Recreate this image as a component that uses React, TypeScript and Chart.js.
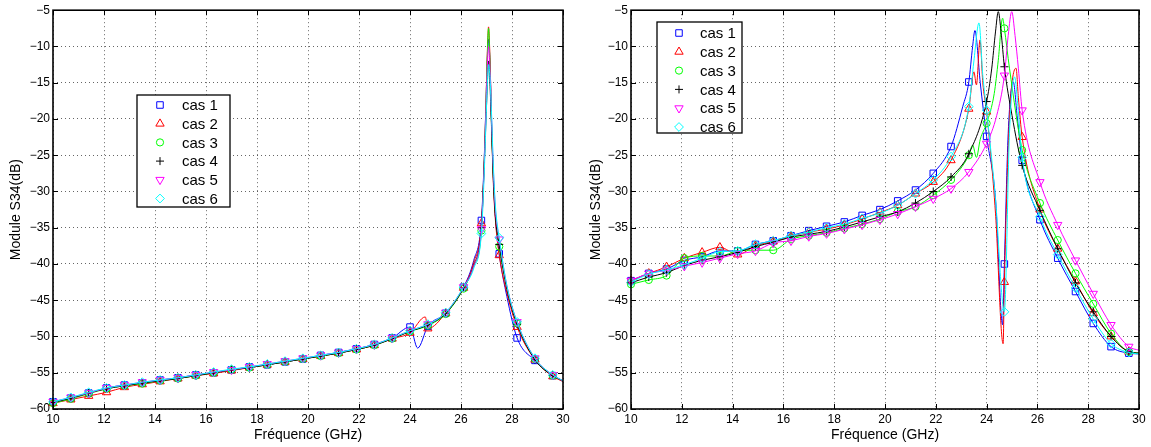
import React, { useEffect, useRef } from 'react';
import { Chart, registerables } from 'chart.js';

Chart.register(...registerables);

// ---------- shared data ----------
const MARKER_FREQ = [10, 10.7, 11.4, 12.1, 12.8, 13.5, 14.2, 14.9, 15.6, 16.3, 17, 17.7, 18.4, 19.1, 19.8, 20.5, 21.2, 21.9, 22.6, 23.3, 24, 24.7, 25.4, 26.1, 26.8, 27.5, 28.2, 28.9, 29.6];
const CASE_LABELS = ['cas 1', 'cas 2', 'cas 3', 'cas 4', 'cas 5', 'cas 6'];
const CASE_COLORS = ['#0000ff', '#ff0000', '#00ff00', '#000000', '#ff00ff', '#00ffff'];
const CASE_STYLES = ['rect', 'triangle', 'circle', 'cross', 'triangle', 'rectRot'];
const CASE_ROTATIONS = [0, 0, 0, 0, 180, 0];
const CASE_RADII = [4.6, 4.8, 3.6, 4, 4.8, 4.4];

const X_MIN = 10;
const X_MAX = 30;
const X_STEP = 2;
const Y_MIN = -60;
const Y_MAX = -5;
const Y_STEP = 5;
const X_TITLE = 'Fréquence (GHz)';
const Y_TITLE = 'Module S34(dB)';

// ---------- left chart: marker values ----------
const L1 = [-59.0, -58.5, -57.8, -57.1, -56.7, -56.4, -56.0, -55.7, -55.3, -55.0, -54.6, -54.2, -53.9, -53.5, -53.1, -52.6, -52.2, -51.7, -51.1, -50.2, -48.7, -48.6, -46.8, -43.2, -34.0, -38.6, -50.2, -53.3, -55.4];
const L2 = [-59.2, -58.7, -58.2, -57.7, -57.0, -56.6, -56.2, -55.8, -55.4, -55.1, -54.7, -54.3, -53.9, -53.5, -53.1, -52.7, -52.3, -51.8, -51.2, -50.3, -49.5, -48.9, -46.8, -43.3, -34.4, -38.8, -48.7, -53.2, -55.5];
const L3 = [-59.2, -58.6, -57.9, -57.2, -56.8, -56.5, -56.1, -55.8, -55.4, -55.0, -54.6, -54.3, -53.9, -53.5, -53.1, -52.7, -52.3, -51.8, -51.2, -50.3, -49.3, -48.5, -46.9, -43.4, -35.4, -37.6, -48.2, -53.1, -55.4];
const L4 = [-59.1, -58.5, -57.8, -57.2, -56.8, -56.4, -56.1, -55.8, -55.4, -55.0, -54.6, -54.3, -53.9, -53.5, -53.1, -52.7, -52.3, -51.8, -51.2, -50.3, -49.3, -48.4, -46.8, -43.3, -35.0, -37.3, -48.3, -53.2, -55.4];
const L5 = [-59.0, -58.4, -57.8, -57.1, -56.7, -56.3, -56.0, -55.7, -55.3, -54.9, -54.6, -54.2, -53.8, -53.4, -53.0, -52.6, -52.2, -51.7, -51.1, -50.2, -49.2, -48.3, -46.7, -43.2, -35.2, -36.6, -48.0, -53.0, -55.3];
const L6 = [-59.0, -58.4, -57.7, -57.1, -56.7, -56.3, -56.0, -55.7, -55.3, -54.9, -54.5, -54.2, -53.8, -53.4, -53.0, -52.6, -52.2, -51.7, -51.1, -50.2, -49.2, -48.3, -46.7, -43.2, -35.8, -36.4, -48.0, -53.0, -55.3];

// left chart: extra curve points between markers (resonance shape)
const L1_EX = [24.3, 26.5, 26.9, 26.97, 27.03, 27.08, 27.14, 27.2, 27.27, 27.35, 27.8, 30];
const L1_EY = [-51.6, -39.5, -26.5, -19, -12, -9, -12.5, -20.5, -28, -33.5, -44.5, -56.2];
const L2_EX = [24.6, 26.5, 26.9, 26.97, 27.03, 27.08, 27.14, 27.2, 27.27, 27.35, 27.8, 30];
const L2_EY = [-47.3, -39.8, -26.8, -19, -11, -7.3, -12, -21, -29, -34, -44, -56.2];
const L3_EX = [26.5, 26.9, 26.97, 27.03, 27.08, 27.14, 27.2, 27.27, 27.35, 27.8, 30];
const L3_EY = [-40.3, -27, -19.5, -11.5, -7.5, -13, -21, -28, -33, -43.2, -56.1];
const L4_EX = [26.5, 26.9, 26.97, 27.03, 27.08, 27.14, 27.2, 27.27, 27.35, 27.8, 30];
const L4_EY = [-40.2, -27.5, -21, -15.5, -12, -15.5, -21.5, -28.5, -33.5, -43.5, -56.1];
const L5_EX = [26.5, 26.9, 26.97, 27.03, 27.08, 27.14, 27.2, 27.27, 27.35, 27.8, 30];
const L5_EY = [-40.3, -27.5, -20, -13, -10, -13.5, -20, -27, -32.5, -43, -56.1];
const L6_EX = [26.5, 26.9, 26.97, 27.03, 27.08, 27.14, 27.2, 27.27, 27.35, 27.8, 30];
const L6_EY = [-40.6, -28.5, -21.5, -15.5, -12.5, -14.5, -19.5, -26.5, -32, -43, -56.1];

// ---------- right chart: marker values ----------
const R1 = [-42.3, -41.3, -40.7, -39.5, -39.0, -38.2, -38.2, -37.3, -36.8, -36.1, -35.4, -34.8, -34.2, -33.3, -32.5, -31.3, -29.8, -27.5, -23.8, -14.9, -22.4, -40.0, -25.7, -33.9, -39.2, -43.8, -48.2, -51.4, -52.3];
const R2 = [-42.3, -41.3, -40.4, -39.2, -38.4, -37.7, -38.7, -37.5, -36.9, -36.2, -35.6, -35.2, -34.6, -33.8, -32.9, -31.9, -30.3, -28.7, -25.7, -18.6, -19.0, -42.5, -22.5, -32.5, -37.9, -42.4, -46.8, -50.0, -52.1];
const R3 = [-42.8, -42.2, -41.6, -39.2, -38.9, -38.9, -38.2, -38.1, -38.1, -36.6, -36.1, -35.7, -35.1, -34.5, -33.8, -32.8, -32.1, -30.5, -28.4, -25.0, -20.6, -7.5, -24.3, -31.6, -36.7, -41.3, -45.5, -49.6, -52.1];
const R4 = [-42.6, -41.8, -41.2, -40.2, -39.5, -39.0, -38.4, -37.6, -37.0, -36.3, -35.9, -35.5, -34.9, -34.2, -33.5, -32.8, -31.6, -30.0, -28.0, -24.8, -17.6, -12.8, -26.4, -32.6, -37.9, -42.6, -46.6, -50.0, -52.1];
const R5 = [-42.3, -41.3, -40.9, -40.3, -39.8, -39.2, -38.6, -38.2, -37.1, -36.8, -36.2, -35.8, -35.2, -34.6, -33.9, -33.1, -32.1, -31.0, -29.6, -27.3, -23.4, -14.0, -18.8, -28.7, -34.6, -39.5, -44.1, -48.4, -51.4];
const R6 = [-42.5, -41.4, -40.8, -40.1, -39.2, -38.3, -38.2, -37.3, -36.8, -36.1, -35.6, -35.0, -34.5, -33.7, -33.0, -31.9, -30.3, -28.4, -25.2, -18.3, -18.8, -46.6, -25.3, -33.5, -38.7, -43.3, -47.6, -51.0, -52.2];

// right chart: extra curve points
const R1_EX = [23.06, 23.45, 23.54, 23.75, 24.35, 24.63, 24.85, 25.05, 25.2, 30];
const R1_EY = [-18.3, -10, -7.8, -15, -31, -48.4, -22, -14.9, -19.5, -52.4];
const R2_EX = [23.5, 23.6, 23.74, 23.85, 24.35, 24.65, 24.9, 25.16, 25.25, 30];
const R2_EY = [-13.5, -15.3, -9.1, -15, -33, -51, -20, -13, -17, -52.3];
const R3_EX = [23.45, 23.6, 23.75, 24.3, 24.46, 24.63, 24.9, 30];
const R3_EY = [-23.6, -25.3, -22.8, -16.5, -11.9, -6.1, -13, -52.3];
const R4_EX = [24.2, 24.35, 24.46, 24.57, 25.0, 30];
const R4_EY = [-13.1, -8, -5.2, -8, -19.5, -52.3];
const R5_EX = [24.4, 24.85, 24.99, 25.12, 25.25, 30];
const R5_EY = [-19.5, -8.5, -5.2, -8.5, -13, -51.9];
const R6_EX = [23.5, 23.7, 23.85, 24.35, 24.9, 25.1, 25.25, 30];
const R6_EY = [-12, -6.75, -14, -31, -22, -14.2, -19, -52.4];

// ---------- helpers ----------
type Pt = { x: number; y: number; m: boolean };

function buildSeries(markers: number[], ex: number[], ey: number[]): Pt[] {
  const pts: Pt[] = MARKER_FREQ.map((x, i) => ({ x, y: markers[i], m: true }));
  ex.forEach((x, i) => pts.push({ x, y: ey[i], m: false }));
  pts.sort((a, b) => a.x - b.x);
  return pts;
}

function drawMarker(ctx: CanvasRenderingContext2D, style: string, rot: number, x: number, y: number, r: number) {
  ctx.beginPath();
  if (style === 'rect') {
    const s = r * Math.SQRT1_2;
    ctx.rect(x - s, y - s, 2 * s, 2 * s);
  } else if (style === 'triangle') {
    let a = (rot * Math.PI) / 180;
    ctx.moveTo(x + Math.sin(a) * r, y - Math.cos(a) * r);
    for (let k = 0; k < 2; k++) {
      a += (2 * Math.PI) / 3;
      ctx.lineTo(x + Math.sin(a) * r, y - Math.cos(a) * r);
    }
    ctx.closePath();
  } else if (style === 'circle') {
    ctx.arc(x, y, r, 0, Math.PI * 2);
  } else if (style === 'cross') {
    ctx.moveTo(x, y - r);
    ctx.lineTo(x, y + r);
    ctx.moveTo(x - r, y);
    ctx.lineTo(x + r, y);
  } else if (style === 'rectRot') {
    ctx.moveTo(x - r, y);
    ctx.lineTo(x, y - r);
    ctx.lineTo(x + r, y);
    ctx.lineTo(x, y + r);
    ctx.closePath();
  }
  ctx.stroke();
}

const FONT = "'Liberation Sans', Arial, Helvetica, sans-serif";

const framePlugin = {
  id: 'matlabFrame',
  afterDatasetsDraw(chart: any) {
    const { ctx, chartArea, scales } = chart;
    const { left, right, top, bottom } = chartArea;
    ctx.save();
    ctx.strokeStyle = '#000';
    ctx.lineWidth = 1;
    ctx.beginPath();
    const tl = 5;
    scales.x.ticks.forEach((t: any) => {
      const px = Math.round(scales.x.getPixelForValue(t.value)) + 0.5;
      ctx.moveTo(px, bottom);
      ctx.lineTo(px, bottom - tl);
      ctx.moveTo(px, top);
      ctx.lineTo(px, top + tl);
    });
    scales.y.ticks.forEach((t: any) => {
      const py = Math.round(scales.y.getPixelForValue(t.value)) + 0.5;
      ctx.moveTo(left, py);
      ctx.lineTo(left + tl, py);
      ctx.moveTo(right, py);
      ctx.lineTo(right - tl, py);
    });
    ctx.stroke();
    ctx.lineWidth = 1.6;
    ctx.strokeRect(left, top, right - left, bottom - top);
    ctx.restore();
  },
};

const legendPlugin = {
  id: 'boxLegend',
  afterDraw(chart: any, _args: any, opts: any) {
    const { ctx } = chart;
    ctx.save();
    ctx.fillStyle = '#fff';
    ctx.fillRect(opts.x, opts.y, opts.w, opts.h);
    ctx.strokeStyle = '#000';
    ctx.lineWidth = 1.3;
    ctx.strokeRect(opts.x, opts.y, opts.w, opts.h);
    ctx.font = `15px ${FONT}`;
    ctx.textBaseline = 'middle';
    ctx.textAlign = 'left';
    chart.data.datasets.forEach((ds: any, i: number) => {
      const cy = opts.y + opts.firstRow + i * opts.rowH;
      ctx.strokeStyle = CASE_COLORS[i];
      ctx.lineWidth = 1;
      drawMarker(ctx, CASE_STYLES[i], CASE_ROTATIONS[i], opts.markerX, cy, CASE_RADII[i]);
      ctx.fillStyle = '#000';
      ctx.fillText(ds.label, opts.textX, cy + 1);
    });
    ctx.restore();
  },
};

function makeConfig(series: Pt[][], plotLeft: number, plotRight: number, canvasW: number, titlePad: number, legend: any): any {
  return {
    type: 'line',
    data: {
      datasets: series.map((pts, i) => ({
        label: CASE_LABELS[i],
        data: pts,
        borderColor: CASE_COLORS[i],
        backgroundColor: 'rgba(0,0,0,0)',
        borderWidth: 1,
        pointStyle: CASE_STYLES[i],
        pointRotation: CASE_ROTATIONS[i],
        pointBorderColor: CASE_COLORS[i],
        pointBackgroundColor: 'rgba(0,0,0,0)',
        pointBorderWidth: 1,
        pointRadius: (c: any) => (c.raw && c.raw.m ? CASE_RADII[i] : 0),
        pointHoverRadius: 0,
        cubicInterpolationMode: 'monotone',
        fill: false,
        clip: false,
        order: series.length - i,
      })),
    },
    options: {
      responsive: false,
      animation: false,
      devicePixelRatio: 1,
      events: [],
      layout: { padding: { top: 10, bottom: 0, left: 0, right: canvasW - plotRight } },
      plugins: {
        legend: { display: false },
        tooltip: { enabled: false },
        boxLegend: legend,
      },
      scales: {
        x: {
          type: 'linear',
          min: X_MIN,
          max: X_MAX,
          ticks: {
            stepSize: X_STEP,
            color: '#000',
            font: { family: FONT, size: 12 },
            padding: 3,
            maxRotation: 0,
          },
          grid: { color: 'rgba(0,0,0,0.6)', lineWidth: 1, drawTicks: false },
          border: { display: false, dash: [1, 3] },
          title: {
            display: true,
            text: X_TITLE,
            color: '#000',
            font: { family: FONT, size: 14 },
            padding: { top: 0, bottom: 3 },
          },
          afterFit: (s: any) => {
            s.height = 38;
          },
        },
        y: {
          type: 'linear',
          min: Y_MIN,
          max: Y_MAX,
          ticks: {
            stepSize: Y_STEP,
            color: '#000',
            font: { family: FONT, size: 12 },
            padding: 3,
            callback: (v: number) => String(v).replace('-', '\u2212'),
          },
          grid: { color: 'rgba(0,0,0,0.6)', lineWidth: 1, drawTicks: false },
          border: { display: false, dash: [1, 3] },
          title: {
            display: true,
            text: Y_TITLE,
            color: '#000',
            font: { family: FONT, size: 14 },
            padding: { top: titlePad, bottom: 0 },
          },
          afterFit: (s: any) => {
            s.width = plotLeft;
          },
        },
      },
    },
    plugins: [framePlugin, legendPlugin],
  };
}

const LEFT_SERIES = [
  buildSeries(L1, L1_EX, L1_EY),
  buildSeries(L2, L2_EX, L2_EY),
  buildSeries(L3, L3_EX, L3_EY),
  buildSeries(L4, L4_EX, L4_EY),
  buildSeries(L5, L5_EX, L5_EY),
  buildSeries(L6, L6_EX, L6_EY),
];
const RIGHT_SERIES = [
  buildSeries(R1, R1_EX, R1_EY),
  buildSeries(R2, R2_EX, R2_EY),
  buildSeries(R3, R3_EX, R3_EY),
  buildSeries(R4, R4_EX, R4_EY),
  buildSeries(R5, R5_EX, R5_EY),
  buildSeries(R6, R6_EX, R6_EY),
];

const LEFT_W = 576;
const RIGHT_W = 575;
const H = 447;

export default function App() {
  const leftRef = useRef<HTMLCanvasElement>(null);
  const rightRef = useRef<HTMLCanvasElement>(null);

  useEffect(() => {
    const c1 = new Chart(
      leftRef.current as HTMLCanvasElement,
      makeConfig(LEFT_SERIES, 53, 563, LEFT_W, 8, {
        x: 137, y: 95, w: 93, h: 112, firstRow: 10, rowH: 18.7, markerX: 160, textX: 182,
      })
    );
    const c2 = new Chart(
      rightRef.current as HTMLCanvasElement,
      makeConfig(RIGHT_SERIES, 55, 563, RIGHT_W, 12, {
        x: 81, y: 22, w: 85, h: 111, firstRow: 11, rowH: 18.8, markerX: 103, textX: 124,
      })
    );
    return () => {
      c1.destroy();
      c2.destroy();
    };
  }, []);

  return (
    <div style={{ position: 'absolute', left: 0, top: 0, width: LEFT_W + RIGHT_W, height: H, background: '#fff' }}>
      <canvas ref={leftRef} width={LEFT_W} height={H} style={{ position: 'absolute', left: 0, top: 0 }} />
      <canvas ref={rightRef} width={RIGHT_W} height={H} style={{ position: 'absolute', left: LEFT_W, top: 0 }} />
    </div>
  );
}
